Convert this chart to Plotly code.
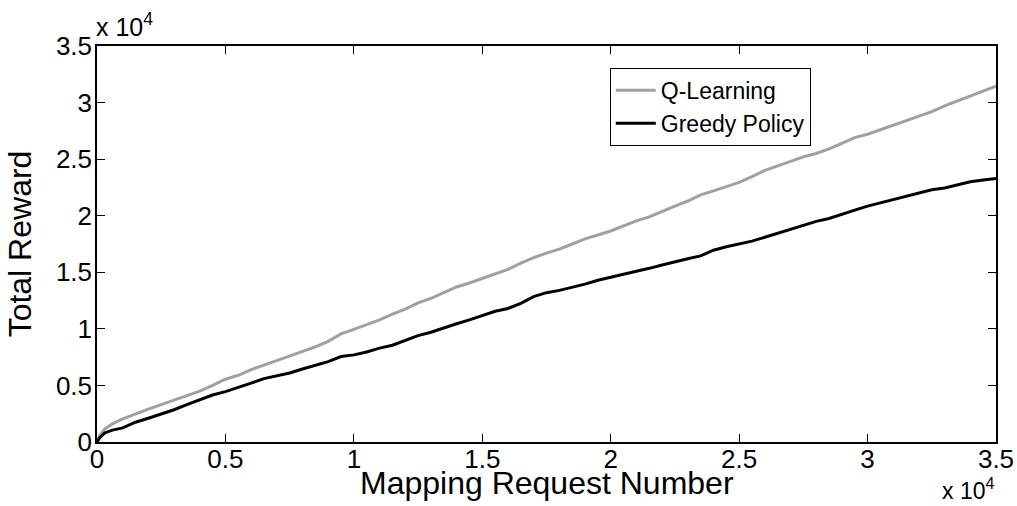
import plotly.graph_objects as go

# x positions (mapping request number, thousands -> converted below)
x_k = [0, 0.1, 0.3, 0.6, 1, 1.5, 2, 2.5, 3, 3.5, 4, 4.5, 5, 5.5, 6, 6.5, 7, 7.5, 8, 8.5,
       9, 9.5, 10, 10.5, 11, 11.5, 12, 12.5, 13, 13.5, 14, 14.5, 15, 15.5, 16, 16.5, 17,
       17.5, 18, 18.5, 19, 19.5, 20, 20.5, 21, 21.5, 22, 22.5, 23, 23.5, 24, 24.5, 25,
       25.5, 26, 26.5, 27, 27.5, 28, 28.5, 29, 29.5, 30, 30.5, 31, 31.5, 32, 32.5, 33,
       33.5, 34, 34.5, 35]

q_learning_k = [0, 0.55, 1.15, 1.6, 2.05, 2.5, 2.9, 3.3, 3.7, 4.05, 4.5, 5.0, 5.55, 5.9, 6.4,
                6.8, 7.2, 7.6, 8.05, 8.4, 8.9, 9.55, 9.95, 10.35, 10.8, 11.3, 11.75, 12.3,
                12.7, 13.2, 13.7, 14.05, 14.45, 14.85, 15.25, 15.8, 16.3, 16.7, 17.05, 17.5,
                17.95, 18.3, 18.65, 19.1, 19.55, 19.9, 20.4, 20.85, 21.3, 21.85, 22.2, 22.55,
                22.95, 23.45, 24.0, 24.4, 24.8, 25.2, 25.5, 25.9, 26.4, 26.9, 27.2, 27.6,
                28.0, 28.35, 28.75, 29.2, 29.7, 30.15, 30.55, 31.0, 31.45]

greedy_k = [0, 0.35, 0.8, 1.05, 1.25, 1.75, 2.1, 2.45, 2.85, 3.3, 3.7, 4.15, 4.45, 4.8, 5.2,
            5.6, 5.85, 6.1, 6.45, 6.75, 7.1, 7.55, 7.7, 7.95, 8.3, 8.55, 8.95, 9.4, 9.7,
            10.1, 10.45, 10.8, 11.15, 11.55, 11.8, 12.25, 12.85, 13.2, 13.4, 13.65, 13.95,
            14.3, 14.55, 14.85, 15.1, 15.35, 15.65, 15.95, 16.2, 16.45, 16.95, 17.25, 17.5,
            17.75, 18.1, 18.45, 18.85, 19.15, 19.5, 19.75, 20.15, 20.5, 20.85, 21.15, 21.45,
            21.75, 22.0, 22.3, 22.45, 22.75, 23.0, 23.15, 23.3]

tick_vals = [0, 5000, 10000, 15000, 20000, 25000, 30000, 35000]
tick_text = ["0", "0.5", "1", "1.5", "2", "2.5", "3", "3.5"]

x = [v * 1000 for v in x_k]
q = [v * 1000 for v in q_learning_k]
g = [v * 1000 for v in greedy_k]

FONT = "Liberation Sans, Arial, Helvetica, sans-serif"

fig = go.Figure()
fig.add_trace(go.Scatter(x=x, y=q, mode="lines", name="Q-Learning",
                         line=dict(color="#a0a0a0", width=3)))
fig.add_trace(go.Scatter(x=x, y=g, mode="lines", name="Greedy Policy",
                         line=dict(color="#000000", width=3)))

axis_common = dict(
    range=[0, 35000], tickvals=tick_vals, ticktext=tick_text,
    showline=True, linecolor="black", linewidth=1.5, mirror="ticks",
    ticks="inside", ticklen=8, tickcolor="black", tickwidth=1,
    showgrid=False, zeroline=False, automargin=False,
    tickfont=dict(family=FONT, size=26, color="black"),
)

fig.update_layout(
    width=1017, height=506,
    margin=dict(l=97, r=21, t=46, b=64),
    paper_bgcolor="white", plot_bgcolor="white",
    font=dict(family=FONT, color="black"),
    xaxis=dict(**axis_common, ticklabelstandoff=-7),
    yaxis=dict(**axis_common, ticklabelstandoff=-2,
               title=dict(text="Total Reward", standoff=15,
                          font=dict(family=FONT, size=32, color="black"))),
    legend=dict(x=0.794, y=0.945, xanchor="right", yanchor="top",
                bordercolor="black", borderwidth=1, bgcolor="white",
                font=dict(family=FONT, size=23, color="black"),
                itemwidth=40, tracegroupgap=0),
    showlegend=True,
)

# x-axis title placed as an annotation for exact vertical position
fig.add_annotation(xref="paper", yref="paper", x=0.5, y=0, xanchor="center", yanchor="top",
                   yshift=-21, showarrow=False, text="Mapping Request Number",
                   font=dict(family=FONT, size=32, color="black"))
fig.add_annotation(xref="paper", yref="paper", x=0, y=1, xanchor="left", yanchor="bottom",
                   yshift=3, xshift=-3, showarrow=False, text="x 10<sup>4</sup>",
                   font=dict(family=FONT, size=25, color="black"))
fig.add_annotation(xref="paper", yref="paper", x=1, y=0, xanchor="right", yanchor="bottom",
                   yshift=-64, showarrow=False, text="x 10<sup>4</sup>",
                   font=dict(family=FONT, size=23, color="black"))

fig.write_html("out.html", config={"displayModeBar": False},
               post_script="document.body.style.margin='0px';")
